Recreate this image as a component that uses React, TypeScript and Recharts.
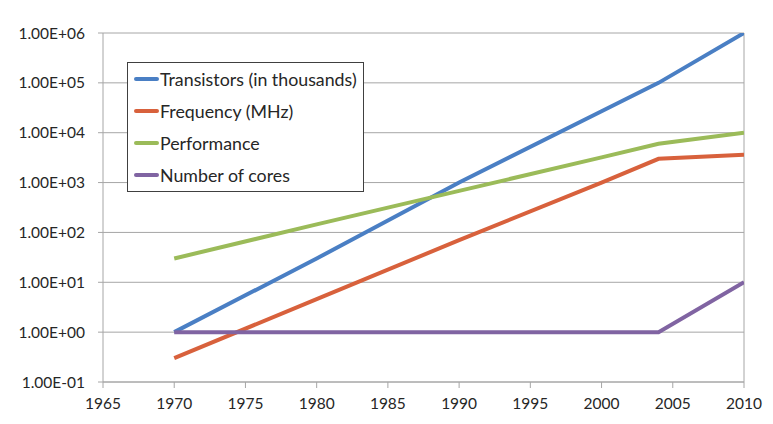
import React from "react";
import { LineChart, Line, XAxis, YAxis, CartesianGrid, ReferenceLine } from "recharts";

const years = [1970, 1980, 1990, 2000, 2004, 2010];
const transistors = [1, 30, 1000, 27000, 100000, 1000000];
const frequency = [0.3, 4.6, 70, 1000, 3000, 3600];
const performance = [30, 145, 680, 3200, 6000, 10000];
const cores = [1, 1, 1, 1, 1, 10];

const xTicks = [1965, 1970, 1975, 1980, 1985, 1990, 1995, 2000, 2005, 2010];
const yTicks = [0.1, 1, 10, 100, 1000, 10000, 100000, 1000000];

const series = [
  { key: "transistors", name: "Transistors (in thousands)", color: "#4a7fc4" },
  { key: "frequency", name: "Frequency (MHz)", color: "#d8613c" },
  { key: "performance", name: "Performance", color: "#9bbb59" },
  { key: "cores", name: "Number of cores", color: "#8064a2" },
];

const data = years.map((year, i) => ({
  year,
  transistors: transistors[i],
  frequency: frequency[i],
  performance: performance[i],
  cores: cores[i],
}));

const FONT = "Lato, 'Open Sans', sans-serif";
const TEXT = "#262626";
const GRID = "#a6a6a6";

function sci(v: number) {
  const [m, e] = v.toExponential(2).split("e");
  const n = Math.abs(parseInt(e, 10));
  return `${m}E${e[0] === "-" ? "-" : "+"}${n < 10 ? "0" + n : n}`;
}

// legend drawn as an overlay so it does not eat into the plot area
function LegendBox() {
  return (
    <div
      style={{
        position: "absolute",
        left: 127,
        top: 62,
        width: 237,
        height: 130,
        border: "1px solid #404040",
        background: "#fff",
        padding: "0 0 0 6px",
        boxSizing: "border-box",
        fontFamily: FONT,
        fontSize: 17.8,
        color: TEXT,
      }}
    >
      {series.map((s) => (
        <div key={s.key} style={{ display: "flex", alignItems: "center", height: 32 }}>
          <span style={{ display: "inline-block", width: 25, height: 4, background: s.color, borderRadius: 2, marginRight: 1 }} />
          <span>{s.name}</span>
        </div>
      ))}
    </div>
  );
}

export default function App() {
  return (
    <div style={{ position: "absolute", left: 0, top: 0, width: 773, height: 424, background: "#fff" }}>
      <LineChart width={773} height={424} data={data} margin={{ top: 33, right: 29, bottom: 12, left: 8 }}>
        <CartesianGrid vertical={false} stroke={GRID} strokeWidth={1} />
        <XAxis
          dataKey="year"
          type="number"
          domain={[1965, 2010]}
          ticks={xTicks}
          stroke={GRID}
          tickSize={6}
          tickMargin={10}
          height={30}
          tick={{ fill: TEXT, fontSize: 15.5, fontFamily: FONT }}
          allowDataOverflow
        />
        <YAxis
          scale="log"
          domain={[0.1, 1000000]}
          ticks={yTicks}
          tickFormatter={sci}
          stroke={GRID}
          tickSize={5}
          tickMargin={13}
          width={95}
          tick={{ fill: TEXT, fontSize: 15.5, fontFamily: FONT }}
          allowDataOverflow
        />
        <ReferenceLine x={2010} stroke={GRID} />
        {series.map((s) => (
          <Line
            key={s.key}
            dataKey={s.key}
            name={s.name}
            stroke={s.color}
            strokeWidth={4}
            dot={false}
            type="linear"
            isAnimationActive={false}
          />
        ))}
      </LineChart>
      <LegendBox />
    </div>
  );
}
